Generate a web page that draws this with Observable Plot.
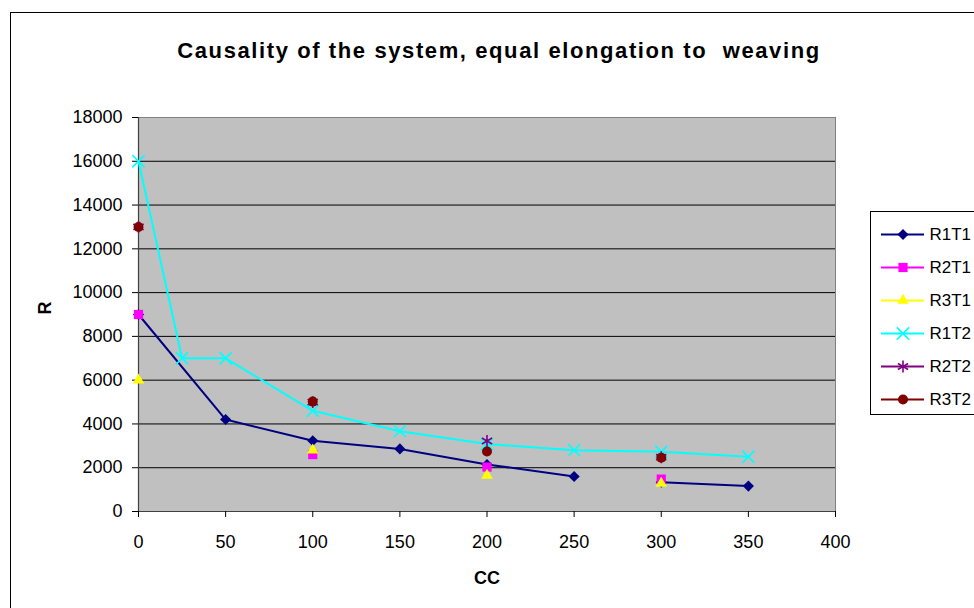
<!DOCTYPE html>
<html>
<head>
<meta charset="utf-8">
<script src="https://cdn.jsdelivr.net/npm/d3@7"></script>
<script src="https://cdn.jsdelivr.net/npm/@observablehq/plot@0.6"></script>
<style>
  html, body { margin: 0; padding: 0; background: #fff; overflow: hidden; }
  #wrap { position: relative; width: 974px; height: 608px; overflow: hidden; font-family: Arial, "Liberation Sans", sans-serif; }
  #main { position: absolute; left: 0; top: 0; width: 974px; }
  #legend { position: absolute; left: 870px; top: 211px; width: 142px; }
  #legend svg, #main svg { max-width: none !important; }
  #outer { position: absolute; left: 10px; top: 12px; width: 1100px; height: 800px; border: 1px solid #000; pointer-events: none; }
</style>
</head>
<body>
<div id="wrap">
  <div id="main"></div>
  <div id="legend"></div>
  <div id="outer"></div>
</div>
<script>
// ---- data ----
const title = "Causality of the system, equal elongation to  weaving";
const xLabel = "CC";
const yLabel = "R";
const xTicks = [0, 50, 100, 150, 200, 250, 300, 350, 400];
const yTicks = [0, 2000, 4000, 6000, 8000, 10000, 12000, 14000, 16000, 18000];

const seriesNames = ["R1T1", "R2T1", "R3T1", "R1T2", "R2T2", "R3T2"];

// R1T1 (line with a break between 250 and 300)
const r1t1X = [0, 50, 100, 150, 200, 250, 300, 350];
const r1t1Y = [9000, 4200, 3230, 2860, 2150, 1600, 1340, 1160];
const r1t1Run = [1, 1, 1, 1, 1, 1, 2, 2];

// R1T2 (line)
const r1t2X = [0, 25, 50, 100, 150, 200, 250, 300, 350];
const r1t2Y = [16000, 7000, 7000, 4600, 3670, 3080, 2800, 2730, 2500];

// marker-only series
const sparseX = [0, 100, 200, 300];
const r2t1Y = [9000, 2600, 2030, 1480];
const r3t1Y = [6000, 2800, 1650, 1280];
const r2t2Y = [13000, 5000, 3220, 2480];
const r3t2Y = [13000, 5020, 2740, 2460];

// ---- styles ----
const colors = {R1T1: "#000080", R2T1: "#FF00FF", R3T1: "#FFFF00", R1T2: "#00FFFF", R2T2: "#800080", R3T2: "#800000"};
const symbols = {R1T1: "diamond2", R2T1: "square", R3T1: "triangle", R1T2: "times", R2T2: "asterisk", R3T2: "circle"};
const radii = {R1T1: 5, R2T1: 5.2, R3T1: 4.3, R1T2: 5.6, R2T2: 5.6, R3T2: 5};
const strokeSym = new Set(["times", "asterisk"]);

const toRows = (xs, ys, extra) => xs.map((x, i) => ({x, y: ys[i], ...(extra ? {run: extra[i]} : {})}));

function dots(name, rows) {
  const isStroke = strokeSym.has(symbols[name]);
  return Plot.dot(rows, {
    x: "x", y: "y", symbol: () => symbols[name], r: radii[name],
    fill: isStroke ? "none" : colors[name],
    stroke: isStroke ? colors[name] : "none",
    strokeWidth: isStroke ? 1.6 : 0
  });
}

const rowsR1T1 = toRows(r1t1X, r1t1Y, r1t1Run);
const rowsR1T2 = toRows(r1t2X, r1t2Y);
const rowsR2T1 = toRows(sparseX, r2t1Y);
const rowsR3T1 = toRows(sparseX, r3t1Y);
const rowsR2T2 = toRows(sparseX, r2t2Y);
const rowsR3T2 = toRows(sparseX, r3t2Y);

const font = "Arial, 'Liberation Sans', sans-serif";

const chart = Plot.plot({
  width: 974, height: 608,
  marginLeft: 138, marginRight: 139, marginTop: 117, marginBottom: 97,
  style: {background: "transparent", fontFamily: font, color: "#000", maxWidth: "none"},
  x: {domain: [0, 400], ticks: xTicks},
  y: {domain: [0, 18000], ticks: yTicks},
  symbol: {type: "identity"},
  marks: [
    Plot.frame({fill: "#C0C0C0", stroke: "none"}),
    Plot.gridY(yTicks.filter(v => v > 0 && v < 18000), {stroke: "#000", strokeOpacity: 1, strokeWidth: 1}),
    Plot.frame({stroke: "#808080", strokeWidth: 1}),
    Plot.ruleY([0], {stroke: "#404040", strokeWidth: 1.2}),
    Plot.ruleX([0], {stroke: "#404040", strokeWidth: 1.2}),
    Plot.axisY(yTicks, {tickSize: 6, tickPadding: 10, fontSize: 18, fill: "#000", stroke: "#000", label: null, tickFormat: d => String(d)}),
    Plot.axisX(xTicks, {tickSize: 6, tickPadding: 18, fontSize: 18, fill: "#000", stroke: "#000", label: null, tickFormat: d => String(d)}),
    // series
    Plot.line(rowsR1T1, {x: "x", y: "y", z: "run", stroke: colors.R1T1, strokeWidth: 2}),
    dots("R1T1", rowsR1T1),
    dots("R2T1", rowsR2T1),
    dots("R3T1", rowsR3T1),
    Plot.line(rowsR1T2, {x: "x", y: "y", stroke: colors.R1T2, strokeWidth: 2}),
    dots("R1T2", rowsR1T2),
    dots("R2T2", rowsR2T2),
    dots("R3T2", rowsR3T2),
    // texts
    Plot.text([title], {frameAnchor: "top", dx: 12, dy: -67, lineAnchor: "middle", fontSize: 22, fontWeight: "bold", fill: "#000", text: d => d}),
    Plot.text([xLabel], {frameAnchor: "bottom", dy: 67, lineAnchor: "middle", fontSize: 18, fontWeight: "bold", fill: "#000", text: d => d}),
    Plot.text([yLabel], {frameAnchor: "left", dx: -93, rotate: -90, lineAnchor: "middle", fontSize: 18, fontWeight: "bold", fill: "#000", text: d => d})
  ]
});
chart.querySelectorAll("text").forEach(t => { if (t.textContent === title) t.style.letterSpacing = "1.6px"; });
document.getElementById("main").append(chart);

// legend (its own small plot; box drawn as the svg border)
const legend = Plot.plot({
  width: 140, height: 202,
  marginLeft: 10, marginRight: 87, marginTop: 0, marginBottom: 0,
  style: {background: "#fff", fontFamily: font, border: "1px solid #000", overflow: "visible", display: "block", maxWidth: "none"},
  y: {type: "point", domain: seriesNames, range: [21, 188], padding: 0, axis: null},
  symbol: {type: "identity"},
  marks: [
    Plot.tickY(seriesNames, {y: d => d, stroke: d => colors[d], strokeWidth: 2}),
    Plot.dot(seriesNames, {
      y: d => d, frameAnchor: "middle", symbol: d => symbols[d], r: d => radii[d],
      fill: d => strokeSym.has(symbols[d]) ? "none" : colors[d],
      stroke: d => strokeSym.has(symbols[d]) ? colors[d] : "none",
      strokeWidth: d => strokeSym.has(symbols[d]) ? 1.6 : 0
    }),
    Plot.text(seriesNames, {y: d => d, frameAnchor: "right", dx: 5, textAnchor: "start", fontSize: 17, fill: "#000", text: d => d})
  ],
  r: {type: "identity"},
  color: {type: "identity"}
});
document.getElementById("legend").append(legend);
</script>
</body>
</html>
